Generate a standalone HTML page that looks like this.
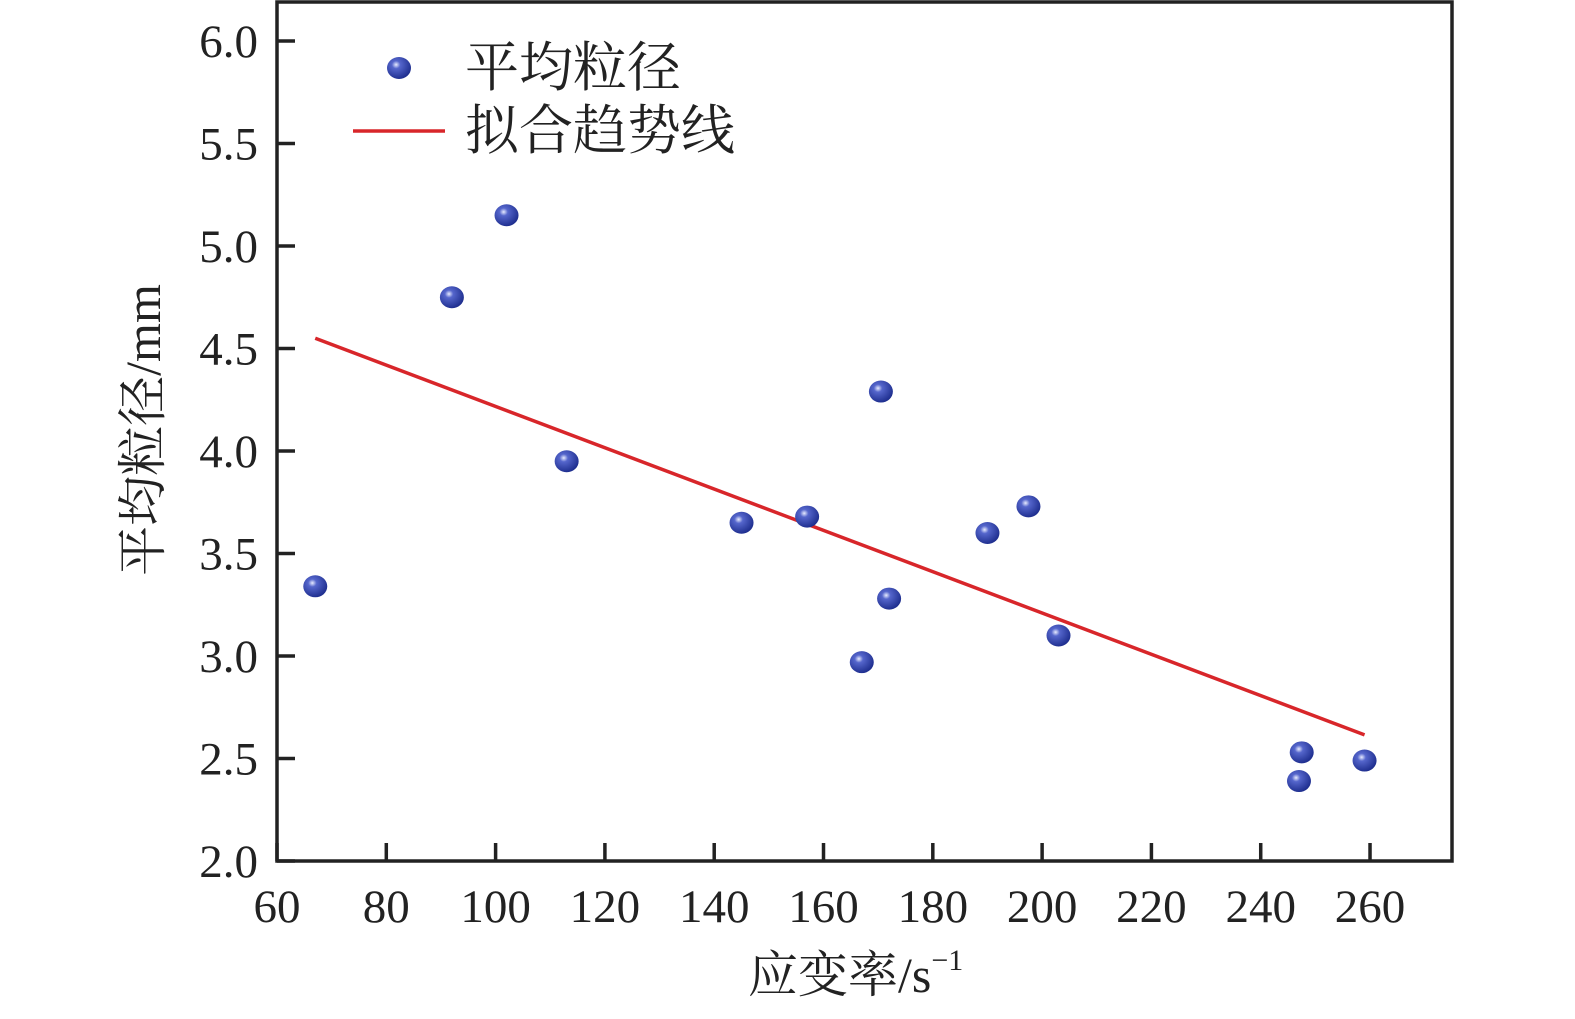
<!DOCTYPE html>
<html><head><meta charset="utf-8"><style>
body{margin:0;background:#fff;}
svg text{font-family:"Liberation Serif","Times New Roman","Noto Serif CJK SC",serif;fill:#222;}
</style></head><body>
<svg id="chart" width="1575" height="1014" xmlns="http://www.w3.org/2000/svg">
<defs><radialGradient id="ball" cx="0.38" cy="0.35" r="0.7">
<stop offset="0" stop-color="#e8ecff"/><stop offset="0.25" stop-color="#5566cc"/><stop offset="1" stop-color="#1a2a8a"/></radialGradient></defs>
<g id="plot"></g>
</svg>
<script>
const xData=[67,92,102,113,145,157,167,170.5,172,190,197.5,203,247.5,247,259];
const yData=[3.34,4.75,5.15,3.95,3.65,3.68,2.97,4.29,3.28,3.60,3.73,3.10,2.53,2.39,2.49];
const fitX=[67,259];
const fitY=[4.55,2.615];
const xTicks=[60,80,100,120,140,160,180,200,220,240,260];
const yTicks=[2.0,2.5,3.0,3.5,4.0,4.5,5.0,5.5,6.0];
const L=277,R=1452,T=2,B=861;
const sx=v=>L+(v-60)*(R-L)/(275-60);
const sy=v=>B-(v-2)*(820)/4;
const NS="http://www.w3.org/2000/svg";
const g=document.getElementById('plot');
function mk(t,a,txt){const e=document.createElementNS(NS,t);for(const k in a)e.setAttribute(k,a[k]);if(txt!==undefined)e.textContent=txt;g.appendChild(e);return e;}
let e=mk('rect',{x:L,y:T,width:R-L,height:B-T,fill:'none',stroke:'#222','stroke-width':3.5});


xTicks.forEach(v=>{
 let t=mk('line',{x1:sx(v),x2:sx(v),y1:B,y2:B-18,stroke:'#222','stroke-width':3.5});
 
 
 let l=mk('text',{x:sx(v),y:922,'font-size':47,'text-anchor':'middle'},String(v));
 
 
});
yTicks.forEach(v=>{
 let t=mk('line',{x1:L,x2:L+18,y1:sy(v),y2:sy(v),stroke:'#222','stroke-width':3.5});
 
 
 let l=mk('text',{x:258,y:sy(v)+16,'font-size':47,'text-anchor':'end'},v.toFixed(1));
 
 
});
let fl=mk('line',{x1:sx(fitX[0]),y1:sy(fitY[0]),x2:sx(fitX[1]),y2:sy(fitY[1]),stroke:'#d8262a','stroke-width':3.5});


xData.forEach((x,i)=>{
 let p=mk('ellipse',{cx:sx(x),cy:sy(yData[i]),rx:12,ry:11,fill:'url(#ball)'});
 
 
});
let lm=mk('ellipse',{cx:399,cy:68,rx:12,ry:11,fill:'url(#ball)'});


let lt=mk('text',{x:465,y:86,'font-size':54},'平均粒径');


let ll=mk('line',{x1:353,x2:445,y1:131,y2:131,stroke:'#d8262a','stroke-width':3.5});


let lt2=mk('text',{x:465,y:149,'font-size':54},'拟合趋势线');


let xt=mk('text',{x:748,y:992,'font-size':50},'应变率/s');


const sp=document.createElementNS(NS,'tspan');
sp.setAttribute('dy','-22');sp.setAttribute('font-size','30');sp.textContent='−1';
xt.appendChild(sp);
let yt=mk('text',{x:0,y:0,'font-size':50,'text-anchor':'middle',transform:'translate(160,430) rotate(-90)'},'平均粒径/mm');


</script>
</body></html>
